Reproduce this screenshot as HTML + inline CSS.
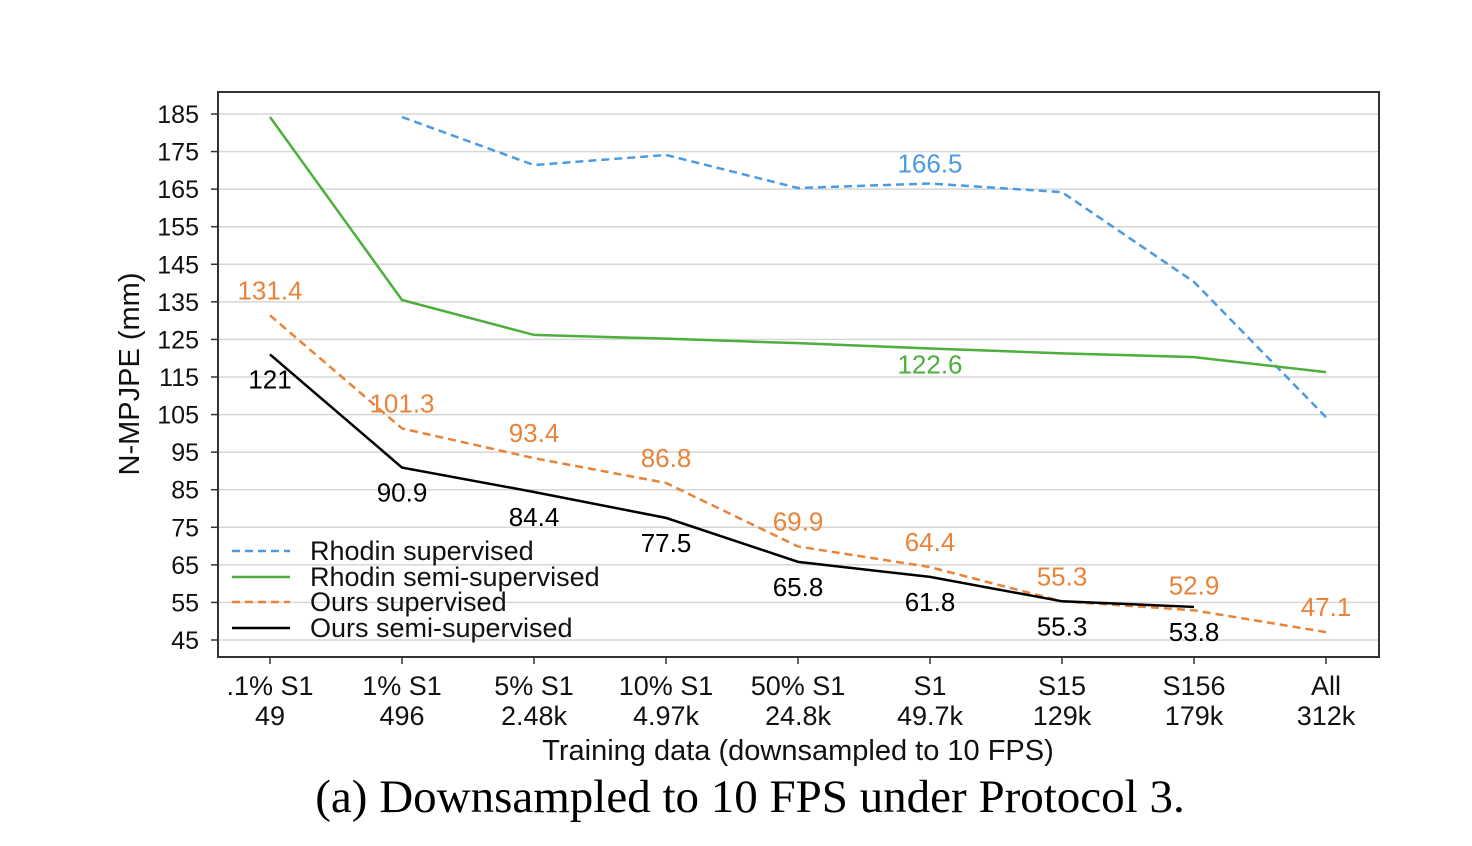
<!DOCTYPE html>
<html><head><meta charset="utf-8"><style>
body{margin:0;background:#fff;}
svg{display:block;}
text{font-family:"Liberation Sans",sans-serif;}
</style></head><body>
<svg id="chart" width="1472" height="846">
<g id="grid"></g>
<g id="series"></g>
<g id="labels"></g>
<rect x="218" y="92" width="1161" height="565" fill="none" stroke="#333" stroke-width="2"/>
<g id="axes"></g>
<text x="798" y="760" font-size="29" text-anchor="middle" fill="#111">Training data (downsampled to 10 FPS)</text>
<text transform="translate(139,374) rotate(-90)" font-size="29" text-anchor="middle" fill="#111">N-MPJPE (mm)</text>
<text x="750" y="812" font-size="47" text-anchor="middle" fill="#000" style="font-family:'Liberation Serif',serif">(a) Downsampled to 10 FPS under Protocol 3.</text>
<g>
<line x1="232" y1="551" x2="290" y2="551" stroke="#4c9be0" stroke-width="2.5" stroke-dasharray="8,5"/>
<text x="310" y="560" font-size="27" fill="#111">Rhodin supervised</text>
<line x1="232" y1="577" x2="290" y2="577" stroke="#4daf3c" stroke-width="2.5"/>
<text x="310" y="586" font-size="27" fill="#111">Rhodin semi-supervised</text>
<line x1="232" y1="602" x2="290" y2="602" stroke="#e8843a" stroke-width="2.5" stroke-dasharray="8,5"/>
<text x="310" y="611" font-size="27" fill="#111">Ours supervised</text>
<line x1="232" y1="628" x2="290" y2="628" stroke="#000" stroke-width="2.5"/>
<text x="310" y="637" font-size="27" fill="#111">Ours semi-supervised</text>
</g>
</svg>
<script>
const categories=[".1% S1","1% S1","5% S1","10% S1","50% S1","S1","S15","S156","All"];
const sizes=["49","496","2.48k","4.97k","24.8k","49.7k","129k","179k","312k"];
const yTicks=[185,175,165,155,145,135,125,115,105,95,85,75,65,55,45];
const rhodinSup=[null,184.2,171.4,174.1,165.3,166.5,164.2,140.3,104.3];
const rhodinSemi=[184.2,135.5,126.2,125.2,124,122.6,121.3,120.3,116.3];
const oursSup=[131.4,101.3,93.4,86.8,69.9,64.4,55.3,52.9,47.1];
const oursSemi=[121,90.9,84.4,77.5,65.8,61.8,55.3,53.8,null];
const NS="http://www.w3.org/2000/svg";
const xs=i=>270+i*132;
const ys=v=>114+(185-v)*(640-114)/140;
function mk(tag,attrs,parent,txt){const e=document.createElementNS(NS,tag);for(const k in attrs)e.setAttribute(k,attrs[k]);if(txt!==undefined)e.textContent=txt;parent.appendChild(e);return e;}
const grid=document.getElementById('grid'),axes=document.getElementById('axes'),ser=document.getElementById('series'),lab=document.getElementById('labels');
yTicks.forEach(v=>{
 const g=mk('line',{x1:218,x2:1379,y1:ys(v),y2:ys(v),stroke:'#d6d6d6','stroke-width':1.5},grid);
 
 
 const t=mk('line',{x1:211,x2:218,y1:ys(v),y2:ys(v),stroke:'#333','stroke-width':1.5},axes);
 
 
 const tx=mk('text',{x:199,y:ys(v)+9,'font-size':25,'text-anchor':'end',fill:'#111'},axes,String(v));
 
 
});
categories.forEach((c,i)=>{
 const t=mk('line',{x1:xs(i),x2:xs(i),y1:657,y2:664,stroke:'#333','stroke-width':1.5},axes);
 
 
 const a=mk('text',{x:xs(i),y:695,'font-size':27,'text-anchor':'middle',fill:'#111'},axes,c);
 
 
 const b=mk('text',{x:xs(i),y:725,'font-size':27,'text-anchor':'middle',fill:'#111'},axes,sizes[i]);
 
 
});
function line(data,color,dash,name){
 const pts=[];data.forEach((v,i)=>{if(v!==null)pts.push(xs(i)+','+ys(v));});
 const p=mk('polyline',{points:pts.join(' '),fill:'none',stroke:color,'stroke-width':2.5},ser);
 if(dash)p.setAttribute('stroke-dasharray','8,5');
 
 
}
line(rhodinSup,'#4c9be0',true,'line-rhodin-supervised');
line(rhodinSemi,'#4daf3c',false,'line-rhodin-semi-supervised');
line(oursSup,'#e8843a',true,'line-ours-supervised');
line(oursSemi,'#000',false,'line-ours-semi-supervised');
function label(i,v,dy,color,name){
 const t=mk('text',{x:xs(i),y:ys(v)+dy,'font-size':26,'text-anchor':'middle',fill:color},lab,String(v));
 
 
}
label(5,rhodinSup[5],-11,'#4c9be0','label-rhodin-sup');
label(5,rhodinSemi[5],25,'#4daf3c','label-rhodin-semi');
oursSup.forEach((v,i)=>{if(v!==null)label(i,v,-16,'#e8843a','label-ours-sup');});
oursSemi.forEach((v,i)=>{if(v!==null)label(i,v,34,'#000','label-ours-semi');});
</script>
</body></html>
